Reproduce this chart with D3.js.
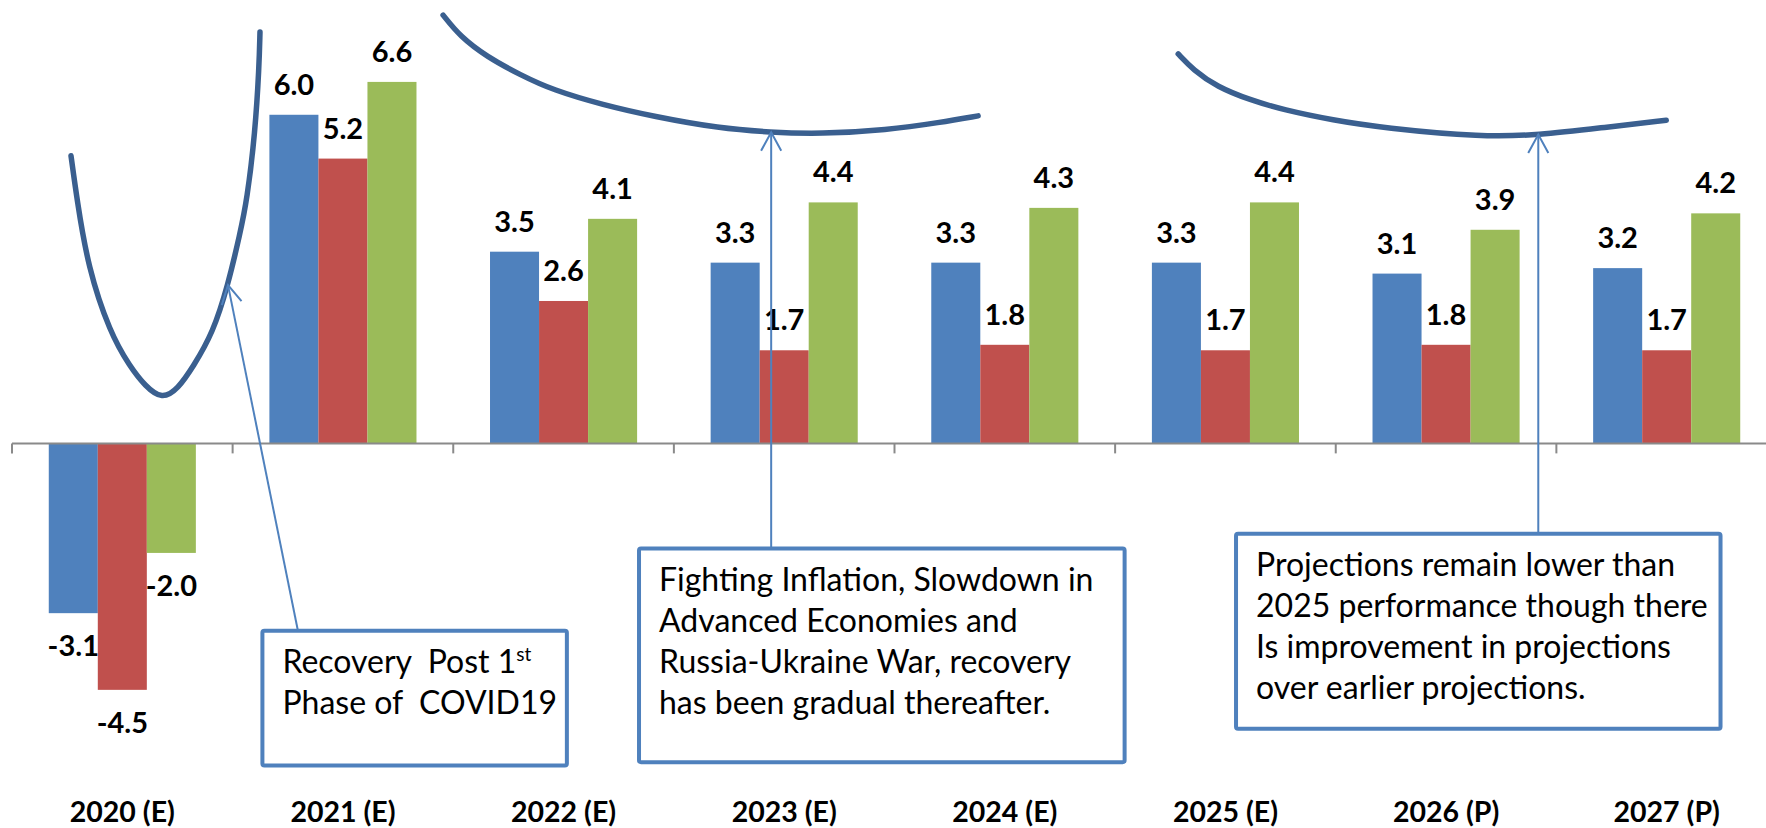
<!DOCTYPE html>
<html>
<head>
<meta charset="utf-8">
<script src="https://cdn.jsdelivr.net/npm/d3@7"></script>
<style>
    body { margin: 0; background: #fff; }
    svg { display: block; font-family: Lato, "Open Sans", sans-serif; }
</style>
</head>
<body>
<svg id="chart"></svg>
<script>
// GDP growth (%) - estimates (E) and projections (P)
var categories = ["2020 (E)", "2021 (E)", "2022 (E)", "2023 (E)", "2024 (E)", "2025 (E)", "2026 (P)", "2027 (P)"];
var seriesNames = ["World", "Advanced Economies", "Emerging and Developing Economies"];
var seriesColors = ["#4F81BD", "#C0504D", "#9BBB59"];
var worldGrowth = [-3.1, 6.0, 3.5, 3.3, 3.3, 3.3, 3.1, 3.2];
var advancedGrowth = [-4.5, 5.2, 2.6, 1.7, 1.8, 1.7, 1.8, 1.7];
var emergingGrowth = [-2.0, 6.6, 4.1, 4.4, 4.3, 4.4, 3.9, 4.2];

// hand drawn notes, in chart units: [category index, growth %]
var swoosh2020 = [[-0.2325, 5.25], [-0.205, 4.44], [-0.156, 3.22], [-0.056, 2.02], [0.035, 1.40], [0.103, 1.05],
    [0.18, 0.80], [0.253, 1.0], [0.321, 1.40], [0.411, 2.02], [0.479, 2.89], [0.534, 3.84], [0.565, 4.44],
    [0.602, 5.67], [0.62, 6.87], [0.624, 7.51]];
var swoosh2023 = [[1.454, 7.82], [1.531, 7.43], [1.652, 7.06], [1.803, 6.73], [1.952, 6.45], [2.179, 6.18],
    [2.406, 5.97], [2.709, 5.75], [2.936, 5.68], [3.163, 5.65], [3.466, 5.72], [3.707, 5.86], [3.879, 5.98]];
var swoosh2026 = [[4.786, 7.11], [4.854, 6.82], [4.962, 6.51], [5.112, 6.27], [5.262, 6.09], [5.488, 5.90],
    [5.715, 5.76], [6.168, 5.59], [6.418, 5.63], [6.699, 5.76], [6.998, 5.90]];

var note1Lines = ["Recovery  Post 1", "Phase of  COVID19"];
var note2Lines = ["Fighting Inflation, Slowdown in", "Advanced Economies and", "Russia-Ukraine War, recovery", "has been gradual thereafter."];
var note3Lines = ["Projections remain lower than", "2025 performance though there", "Is improvement in projections", "over earlier projections."];

var notes = [
    { lines: note1Lines, sup: "st", box: [0.635, -3.42, 2.015, -5.88], from: 0.796, tip: [0.479, 2.89] },
    { lines: note2Lines, box: [2.342, -1.92, 4.543, -5.82], from: 2.941, tip: [2.941, 5.68] },
    { lines: note3Lines, box: [5.048, -1.65, 7.244, -5.21], from: 6.418, tip: [6.418, 5.64] }
];

var width = 1766,
    height = 828;

var svg = d3.select("#chart")
    .attr("width", width)
    .attr("height", height);

var rows = categories.map(function (c, i) {
    var vals = [worldGrowth[i], advancedGrowth[i], emergingGrowth[i]];
    return {
        cat: c,
        values: vals.map(function (v, j) {
            return { name: seriesNames[j], value: v, color: seriesColors[j] };
        })
    };
});

var x = d3.scaleBand()
    .domain(categories)
    .range([12, 1777])
    .paddingInner(1 / 3)
    .paddingOuter(1 / 6);

var xSub = d3.scaleBand()
    .domain(seriesNames)
    .range([0, x.bandwidth()]);

var y = d3.scaleLinear()
    .domain([-6, 7])
    .range([772, 60]);

// continuous position along the category axis (0 = centre of first group)
var xc = d3.scaleLinear()
    .domain([0, categories.length - 1])
    .range([x(categories[0]) + x.bandwidth() / 2, x(categories[categories.length - 1]) + x.bandwidth() / 2]);

// bars
var groups = svg.append("g")
    .selectAll("g")
    .data(rows)
    .join("g")
    .attr("transform", function (d) { return "translate(" + x(d.cat) + ",0)"; });

groups.selectAll("rect")
    .data(function (d) { return d.values; })
    .join("rect")
    .attr("x", function (d) { return xSub(d.name); })
    .attr("width", xSub.bandwidth())
    .attr("y", function (d) { return y(Math.max(0, d.value)); })
    .attr("height", function (d) { return Math.abs(y(d.value) - y(0)); })
    .attr("fill", function (d) { return d.color; });

// value labels
groups.selectAll("text")
    .data(function (d) { return d.values; })
    .join("text")
    .attr("x", function (d) { return xSub(d.name) + xSub.bandwidth() / 2; })
    .attr("y", function (d) { return d.value >= 0 ? y(d.value) - 20 : y(d.value) + 43; })
    .attr("text-anchor", "middle")
    .attr("font-size", "29px")
    .attr("font-weight", "bold")
    .attr("fill", "#000")
    .text(function (d) { return d.value.toFixed(1); });

// zero line with ticks between groups
var step = x.step();
var bounds = d3.range(categories.length + 1).map(function (i) {
    return x.range()[0] + i * step;
});

var zeroAxis = svg.append("g");
zeroAxis.append("line")
    .attr("x1", bounds[0])
    .attr("x2", width)
    .attr("y1", y(0))
    .attr("y2", y(0))
    .attr("stroke", "#8a8a8a")
    .attr("stroke-width", 2);

zeroAxis.selectAll("line.tick")
    .data(bounds)
    .join("line")
    .attr("class", "tick")
    .attr("x1", function (d) { return d; })
    .attr("x2", function (d) { return d; })
    .attr("y1", y(0))
    .attr("y2", y(0) + 10)
    .attr("stroke", "#8a8a8a")
    .attr("stroke-width", 2);

// category labels sit low, under the chart
var xAxis = svg.append("g")
    .attr("transform", "translate(0,822)")
    .call(d3.axisBottom(x).tickSize(0).tickPadding(0));
xAxis.select(".domain").remove();
xAxis.selectAll("text")
    .attr("y", 0)
    .attr("dy", 0)
    .attr("fill", "#000")
    .attr("font-family", "Lato, sans-serif")
    .attr("font-size", "28.5px")
    .attr("font-weight", "bold");

// swooshes (smoothed through the sketch points)
var swooshLine = d3.line()
    .x(function (d) { return xc(d[0]); })
    .y(function (d) { return y(d[1]); })
    .curve(d3.curveBasis);

svg.append("g")
    .selectAll("path")
    .data([swoosh2020, swoosh2023, swoosh2026])
    .join("path")
    .attr("d", swooshLine)
    .attr("fill", "none")
    .attr("stroke", "#3A5F8F")
    .attr("stroke-width", 5.5)
    .attr("stroke-linecap", "round")
    .attr("stroke-linejoin", "round");

// callout boxes and arrows
var noteG = svg.append("g");

notes.forEach(function (n) {
    var bx = xc(n.box[0]),
        by = y(n.box[1]),
        bw = xc(n.box[2]) - bx,
        bh = y(n.box[3]) - by;

    // arrow from the box top up to the swoosh
    var x0 = xc(n.from),
        y0 = by,
        x1 = xc(n.tip[0]),
        y1 = y(n.tip[1]);
    noteG.append("line")
        .attr("x1", x0).attr("y1", y0)
        .attr("x2", x1).attr("y2", y1)
        .attr("stroke", "#4F81BD")
        .attr("stroke-width", 2);

    var ang = Math.atan2(y0 - y1, x0 - x1),
        len = 21,
        spread = 0.5;
    noteG.append("path")
        .attr("d", "M" + (x1 + len * Math.cos(ang - spread)) + "," + (y1 + len * Math.sin(ang - spread)) +
            "L" + x1 + "," + y1 +
            "L" + (x1 + len * Math.cos(ang + spread)) + "," + (y1 + len * Math.sin(ang + spread)))
        .attr("fill", "none")
        .attr("stroke", "#4F81BD")
        .attr("stroke-width", 2);

    noteG.append("rect")
        .attr("x", bx).attr("y", by)
        .attr("width", bw).attr("height", bh)
        .attr("fill", "#fff")
        .attr("stroke", "#4F81BD")
        .attr("stroke-width", 4)
        .attr("rx", 2);

    var txt = noteG.append("text")
        .attr("font-size", "32px")
        .attr("fill", "#000")
        .style("white-space", "pre");

    n.lines.forEach(function (line, i) {
        txt.append("tspan")
            .attr("x", bx + 20)
            .attr("y", by + 42 + i * 41)
            .text(line);
        if (i === 0 && n.sup) {
            txt.append("tspan")
                .attr("dy", -12)
                .attr("font-size", "19px")
                .text(n.sup);
        }
    });
});
</script>
</body>
</html>
